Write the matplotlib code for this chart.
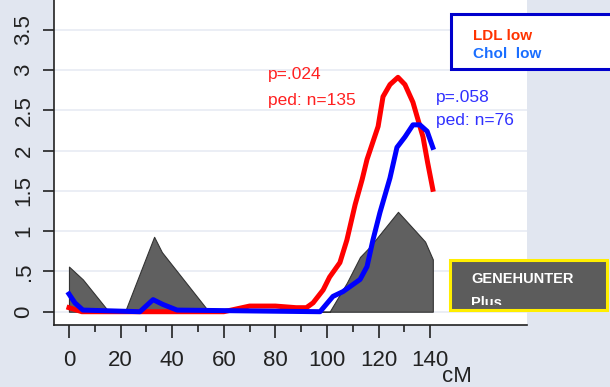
import matplotlib
matplotlib.use("Agg")
import matplotlib.pyplot as plt
from matplotlib.patches import Rectangle

plt.rcParams['font.family'] = ['Liberation Sans', 'DejaVu Sans']

# --- data ---
gray_x = [0, 5.4, 14.7, 21.7, 33, 36, 53.5, 100, 101, 107.7, 112.8, 116.7, 127.5, 134.9, 138, 141]
gray_y = [0.56, 0.40, 0.03, 0.0, 0.93, 0.74, 0.03, 0.0, 0.0, 0.36, 0.68, 0.81, 1.24, 0.98, 0.87, 0.65]

red_x = [0, 2, 5, 60, 70, 80, 88, 92, 94.6, 98.5, 101, 105, 107.7, 110.9, 113.6, 115.5, 119.8, 121.7,
         124.4, 127.5, 130.2, 133.3, 137.2, 139, 141]
red_y = [0.05, 0.03, 0.0, 0.0, 0.07, 0.07, 0.05, 0.05, 0.11, 0.27, 0.43, 0.61, 0.89, 1.33, 1.64, 1.89, 2.30, 2.67,
         2.82, 2.91, 2.82, 2.60, 2.17, 1.85, 1.52]

blue_x = [0, 2.3, 5.4, 27.5, 32.6, 36.4, 41.9, 97.3, 102.3, 106.2, 112.8, 115.5, 117.8, 120.5, 124.4,
          127.1, 130.2, 133.3, 136, 138.8, 141]
blue_y = [0.22, 0.11, 0.02, 0.0, 0.15, 0.09, 0.02, 0.0, 0.19, 0.25, 0.40, 0.56, 0.89, 1.23, 1.66,
          2.04, 2.17, 2.32, 2.32, 2.24, 2.04]

xticks = [0, 20, 40, 60, 80, 100, 120, 140]
yticks = [0, 0.5, 1, 1.5, 2, 2.5, 3, 3.5]
ytick_labels = ["0", ".5", "1", "1.5", "2", "2.5", "3", "3.5"]

bg = "#e1e6f0"
fig = plt.figure(figsize=(6.10, 3.87), dpi=100, facecolor=bg)
ax = fig.add_axes([54/610, 1 - 325/387, (527-54)/610, 325/387])
ax.set_facecolor("white")

ax.set_xlim(-5.8, 177.5)
ax.set_ylim(-0.165, 3.87)

for yv in yticks:
    ax.axhline(yv, color="#e8ebf3", lw=1.2, zorder=0)

ax.fill_between(gray_x, gray_y, 0, facecolor="#606060", edgecolor="#333333", lw=0.8, zorder=2)
ax.plot(red_x, red_y, color="#ff0000", lw=3.6, zorder=3, solid_joinstyle="round")
ax.plot(blue_x, blue_y, color="#0000ff", lw=3.6, zorder=4, solid_joinstyle="round")

for s in ["top", "right"]:
    ax.spines[s].set_visible(False)
ax.spines["left"].set_color("#222222")
ax.spines["bottom"].set_color("#222222")
ax.spines["left"].set_linewidth(1.2)
ax.spines["bottom"].set_linewidth(1.2)

ax.set_xticks(xticks)
ax.set_xticklabels([str(v) for v in xticks], fontsize=16, color="#222222")
ax.set_xticks(list(range(10, 141, 20)), minor=True)
ax.tick_params(axis="x", which="major", length=9, width=1.2, pad=9, color="#222222")
ax.tick_params(axis="x", which="minor", length=5, width=1.2, color="#222222")
ax.set_yticks(yticks)
ax.set_yticklabels(ytick_labels, fontsize=16, rotation=90, va="center", color="#222222")
ax.tick_params(axis="y", length=8, width=1.2, pad=6, color="#222222")

fig.text(457/610, 1 - 377/387, "cM", fontsize=16, ha="center", va="center", color="#222222")

# annotations
fig.text(268/610, 1 - 75/387, "p=.024", fontsize=12.5, color="#ff2020", va="center")
fig.text(268/610, 1 - 101/387, "ped: n=135", fontsize=12.5, color="#ff2020", va="center")
fig.text(436/610, 1 - 97/387, "p=.058", fontsize=12.5, color="#3030ff", va="center")
fig.text(436/610, 1 - 121/387, "ped: n=76", fontsize=12.5, color="#3030ff", va="center")

# legend box
fig.patches.append(Rectangle((451/610, 1 - 69/387), (612-451)/610, (69-14)/387, transform=fig.transFigure,
                             facecolor="white", edgecolor="#0000cc", lw=2.2, zorder=5))
fig.text(473/610, 1 - 36/387, "LDL low", fontsize=11, fontweight="bold", color="#ff3300", va="center", zorder=6)
fig.text(473/610, 1 - 54/387, "Chol  low", fontsize=11, fontweight="bold", color="#1a6eff", va="center", zorder=6)

# GENEHUNTER box
gh = Rectangle((450/610, 1 - 310/387), (607-450)/610, (310-260)/387, transform=fig.transFigure,
               facecolor="#5c5c5c", edgecolor="#ffee00", lw=2.2, zorder=5)
fig.patches.append(gh)
fig.text(471/610, 1 - 279/387, "GENEHUNTER", fontsize=10.5, fontweight="bold", color="white", va="center", zorder=6)
t = fig.text(471/610, 1 - 303/387, "Plus", fontsize=10.5, fontweight="bold", color="white", va="center", zorder=6)
clip = Rectangle((450/610, 1 - 304.5/387), (607-450)/610, (304.5-260)/387, transform=fig.transFigure)
t.set_clip_path(clip)

fig.savefig("out.png", dpi=100, facecolor=bg)
